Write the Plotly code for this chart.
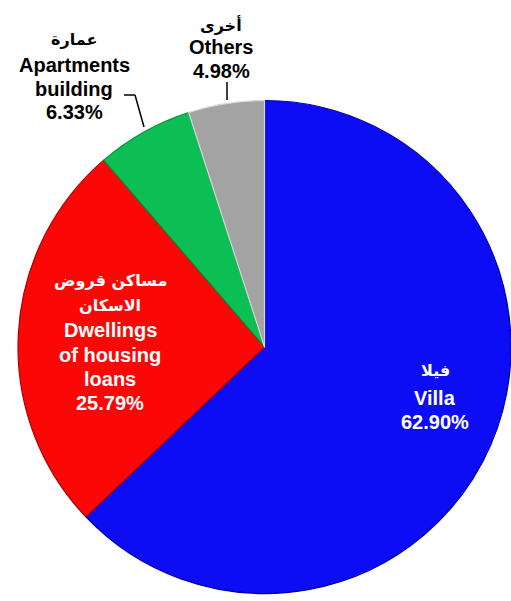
import plotly.graph_objects as go

categories = ["Villa", "Dwellings of housing loans", "Apartments building", "Others"]
arabic = [["فيلا"], ["مساكن قروض", "الاسكان"], ["عمارة"], ["أخرى"]]
english = [["Villa"], ["Dwellings", "of housing", "loans"], ["Apartments", "building"], ["Others"]]
values = [62.90, 25.79, 6.33, 4.98]
colors = ["#0c0cf5", "#fc0606", "#0cbf55", "#a3a3a3"]
edge_colors = ["#0000a8", "#b00000", "#078a3c", "#d8d8d8"]

W, H = 511, 601

fig = go.Figure(go.Pie(
    labels=categories,
    values=values,
    sort=False,
    direction="clockwise",
    rotation=0,
    marker=dict(colors=colors, line=dict(color=edge_colors, width=1.2)),
    textinfo="none",
    hoverinfo="label+percent",
    domain=dict(x=[18 / W, 1.0], y=[(H - 597) / H, (H - 97) / H]),
    showlegend=False,
))

FONT = "Liberation Sans, Arial, DejaVu Sans, sans-serif"
AR_FONT = "DejaVu Sans, sans-serif"


def px(x, y):
    return x / W, 1 - y / H


def line_text(x, y, text, color, size, family):
    ax, ay = px(x, y)
    fig.add_annotation(x=ax, y=ay, xref="paper", yref="paper", text=f"<b>{text}</b>",
                       showarrow=False, align="center", xanchor="center", yanchor="middle",
                       font=dict(family=family, size=size, color=color))


def block(i, x, ys, color):
    lines = [(t, 16, AR_FONT) for t in arabic[i]] + [(t, 20, FONT) for t in english[i]] + \
            [(f"{values[i]:.2f}%", 20, FONT)]
    for (t, s, f), y in zip(lines, ys):
        line_text(x, y, t, color, s, f)


block(0, 435, [370, 398, 422], "white")
block(1, 110, [280, 305, 330, 355, 379, 403], "white")
block(2, 74, [40, 65, 89, 112], "black")
block(3, 221, [25, 47, 71], "black")

# leader lines
for (x0, y0, x1, y1) in [(124, 95, 135, 95), (135, 95, 144, 127), (227, 82, 227, 100)]:
    a0, b0 = px(x0, y0)
    a1, b1 = px(x1, y1)
    fig.add_shape(type="line", xref="paper", yref="paper", x0=a0, y0=b0, x1=a1, y1=b1,
                  line=dict(color="black", width=1.5))

fig.update_layout(
    width=W, height=H,
    margin=dict(l=0, r=0, t=0, b=0),
    paper_bgcolor="white",
    plot_bgcolor="white",
)

fig.write_html("out.html", config={"displayModeBar": False},
               post_script="document.body.style.margin='0';")
